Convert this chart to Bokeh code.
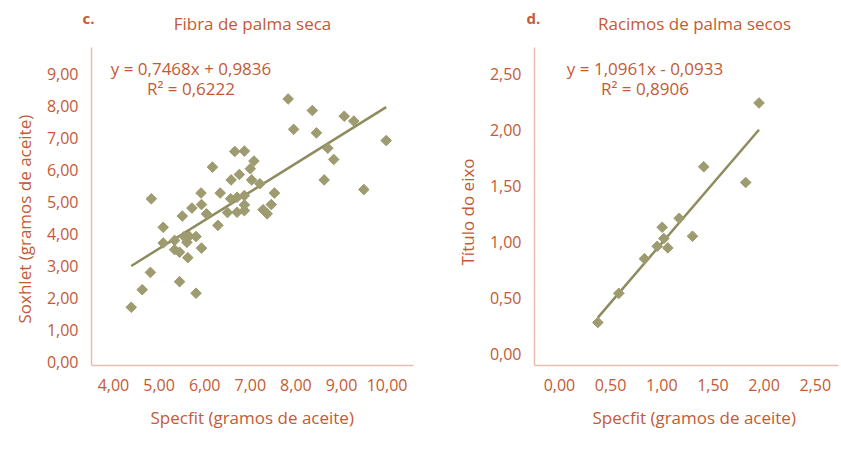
import numpy as np
from bokeh.plotting import figure
from bokeh.layouts import row, column
from bokeh.models import Label, FixedTicker, Range1d, Title
from bokeh.embed import file_html
from bokeh.resources import INLINE

# ---------------- data: chart c ----------------
c_x = [4.39, 4.63, 4.81, 4.83, 5.09, 5.09, 5.34, 5.34, 5.45, 5.45,
       5.51, 5.55, 5.61, 5.63, 5.66, 5.72, 5.81, 5.81, 5.92, 5.93,
       5.93, 6.04, 6.17, 6.29, 6.34, 6.50, 6.57, 6.58, 6.66, 6.71,
       6.71, 6.76, 6.87, 6.87, 6.87, 6.87, 7.00, 7.03, 7.08, 7.21,
       7.28, 7.37, 7.46, 7.53, 7.83, 7.95, 8.36, 8.45, 8.62, 8.70,
       8.83, 9.06, 9.27, 9.49, 9.98]
c_y = [1.71, 2.26, 2.80, 5.10, 4.21, 3.72, 3.80, 3.51, 3.43, 2.51,
       4.56, 3.92, 3.74, 3.26, 3.93, 4.81, 3.92, 2.15, 5.28, 4.92,
       3.56, 4.63, 6.09, 4.27, 5.28, 4.67, 5.10, 5.69, 6.58, 4.68,
       5.15, 5.86, 6.59, 5.20, 4.91, 4.73, 6.04, 5.69, 6.28, 5.57,
       4.76, 4.63, 4.92, 5.28, 8.22, 7.27, 7.86, 7.16, 5.69, 6.68,
       6.33, 7.68, 7.53, 5.39, 6.92]
c_xticks = [4, 5, 6, 7, 8, 9, 10]
c_xtick_labels = ["4,00", "5,00", "6,00", "7,00", "8,00", "9,00", "10,00"]
c_yticks = [0, 1, 2, 3, 4, 5, 6, 7, 8, 9]
c_ytick_labels = ["0,00", "1,00", "2,00", "3,00", "4,00", "5,00", "6,00", "7,00", "8,00", "9,00"]
c_title = "Fibra de palma seca"
c_letter = "c."
c_eq = "y = 0,7468x + 0,9836"
c_r2 = "R² = 0,6222"
c_xlabel = "Specfit (gramos de aceite)"
c_ylabel = "Soxhlet (gramos de aceite)"

# ---------------- data: chart d ----------------
d_x = [0.375, 0.58, 0.83, 0.955, 1.02, 1.004, 1.059, 1.17, 1.30, 1.41, 1.82, 1.95]
d_y = [0.28, 0.54, 0.85, 0.96, 1.03, 1.13, 0.946, 1.21, 1.05, 1.67, 1.53, 2.24]
d_xticks = [0, 0.5, 1, 1.5, 2, 2.5]
d_xtick_labels = ["0,00", "0,50", "1,00", "1,50", "2,00", "2,50"]
d_yticks = [0, 0.5, 1, 1.5, 2, 2.5]
d_ytick_labels = ["0,00", "0,50", "1,00", "1,50", "2,00", "2,50"]
d_title = "Racimos de palma secos"
d_letter = "d."
d_eq = "y = 1,0961x - 0,0933"
d_r2 = "R² = 0,8906"
d_xlabel = "Specfit (gramos de aceite)"
d_ylabel = "Título do eixo"

TEXT = "#C45A35"
AXIS = "#E6BDAE"
MARK = "#9E9B70"
LINE = "#8E8C5E"
FONT = "Open Sans"
HEAD_H = 36


def text_label(p, txt, pos, size="16px", style="normal"):
    p.add_layout(Label(x=pos[0], y=pos[1], text=txt, text_color=TEXT,
                       text_font=FONT, text_font_size=size, text_font_style=style,
                       text_align="center", text_baseline="middle"))


def make(xs, ys, xr, yr, xt, xtl, yt, ytl, width, bl, br,
         eq, r2, eqpos, r2pos, xl, xl_off, yl, yl_off):
    p = figure(width=width, height=462 - HEAD_H, output_backend="svg", toolbar_location=None,
               x_range=Range1d(*xr), y_range=Range1d(*yr),
               min_border_left=bl, min_border_right=br,
               min_border_top=47 - HEAD_H, min_border_bottom=97)
    p.outline_line_color = None
    p.xgrid.grid_line_color = None
    p.ygrid.grid_line_color = None
    p.background_fill_color = "white"
    p.border_fill_color = "white"
    for ax, ticks, labels in ((p.xaxis[0], xt, xtl), (p.yaxis[0], yt, ytl)):
        ax.ticker = FixedTicker(ticks=ticks)
        ax.major_label_overrides = {t: l for t, l in zip(ticks, labels)}
        ax.axis_line_color = AXIS
        ax.axis_line_width = 1.5
        ax.major_tick_line_color = None
        ax.minor_tick_line_color = None
        ax.major_label_text_color = TEXT
        ax.major_label_text_font = FONT
        ax.major_label_text_font_size = "16px"
    p.xaxis.major_label_standoff = 7
    p.yaxis.major_label_standoff = 7

    # trend line from least squares fit of the data
    coef = np.polyfit(xs, ys, 1)
    lx = np.array([min(xs), max(xs)])
    p.line(lx, np.polyval(coef, lx), line_color=LINE, line_width=2.5)
    p.scatter(xs, ys, marker="square", angle=np.pi / 4, size=7.5,
              fill_color=MARK, line_color=MARK)

    text_label(p, eq, eqpos, size="17px")
    text_label(p, r2, r2pos, size="17px")

    xt_ = Title(text=xl, align="left", offset=xl_off, standoff=21,
                text_color=TEXT, text_font=FONT, text_font_size="17px",
                text_font_style="normal")
    p.add_layout(xt_, "below")
    yt_ = Title(text=yl, align="left", offset=yl_off, standoff=16,
                text_color=TEXT, text_font=FONT, text_font_size="17px",
                text_font_style="normal")
    p.add_layout(yt_, "left")
    return p


pc = make(c_x, c_y, (3.518, 10.579), (-0.109, 9.828),
          c_xticks, c_xtick_labels, c_yticks, c_ytick_labels, 441, 91, 28,
          c_eq, c_r2, (5.70, 9.17), (5.70, 8.55),
          c_xlabel, 59, c_ylabel, 42)

pd_ = make(d_x, d_y, (-0.244, 2.727), (-0.104, 2.735),
           d_xticks, d_xtick_labels, d_yticks, d_ytick_labels, 400, 93, 3,
           d_eq, d_r2, (0.836, 2.547), (0.836, 2.369),
           d_xlabel, 58, d_ylabel, 100)

# header strip with panel letters and titles (pixel-like coordinates)
head = figure(width=841, height=HEAD_H, output_backend="svg", toolbar_location=None,
              x_range=Range1d(0, 841), y_range=Range1d(HEAD_H, 0),
              x_axis_type=None, y_axis_type=None, min_border=0)
head.outline_line_color = None
head.xgrid.grid_line_color = None
head.ygrid.grid_line_color = None
text_label(head, c_letter, (88, 17), size="15px", style="bold")
text_label(head, c_title, (252, 23), size="17px")
text_label(head, d_letter, (533, 17), size="15px", style="bold")
text_label(head, d_title, (694, 23), size="17px")

layout = column(head, row(pc, pd_))
open("out.html", "w").write(file_html(layout, INLINE))
